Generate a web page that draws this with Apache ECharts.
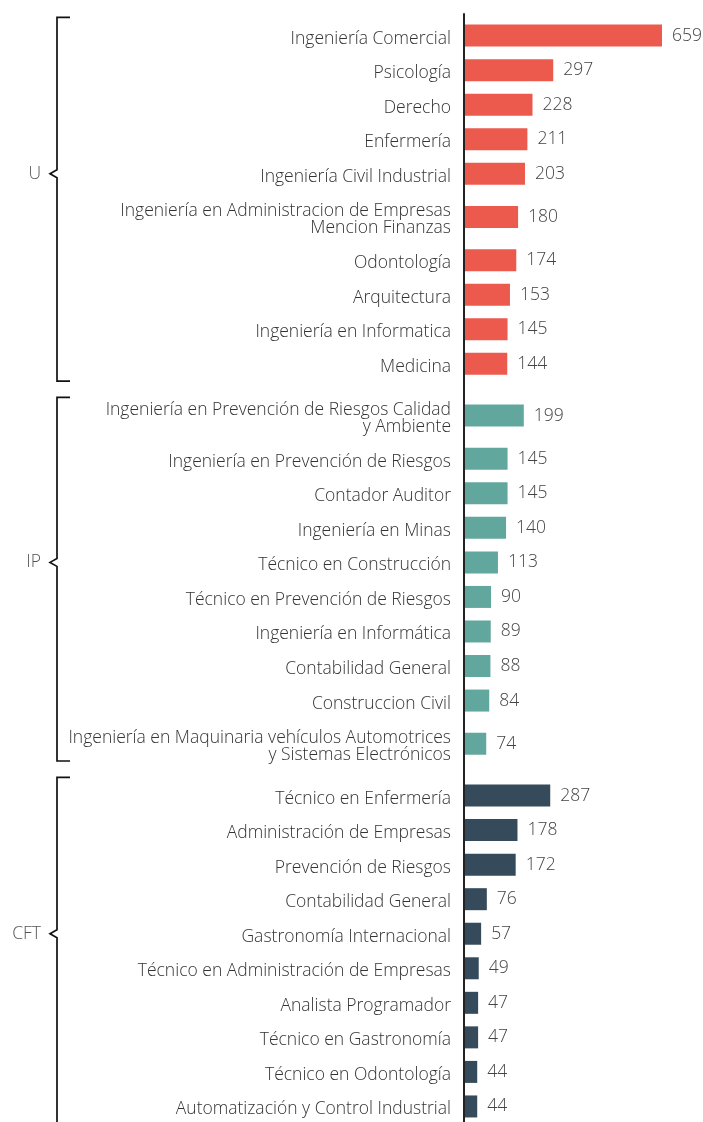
<!DOCTYPE html>
<html>
<head>
<meta charset="utf-8">
<script src="https://cdn.jsdelivr.net/npm/echarts@6/dist/echarts.min.js"></script>
<style>
html, body { margin: 0; padding: 0; background: #fff; }
#chart { width: 703px; height: 1122px; }
</style>
</head>
<body>
<div id="chart"></div>
<script>
// datos por grupo
var groupNames = ['U', 'IP', 'CFT'];
var groupColors = ['#ec5a4e', '#62a79e', '#354b5b'];

var uLabels = ['Ingeniería Comercial', 'Psicología', 'Derecho', 'Enfermería', 'Ingeniería Civil Industrial',
	'Ingeniería en Administracion de Empresas\nMencion Finanzas', 'Odontología', 'Arquitectura',
	'Ingeniería en Informatica', 'Medicina'];
var uValues = [659, 297, 228, 211, 203, 180, 174, 153, 145, 144];

var ipLabels = ['Ingeniería en Prevención de Riesgos Calidad\ny Ambiente', 'Ingeniería en Prevención de Riesgos',
	'Contador Auditor', 'Ingeniería en Minas', 'Técnico en Construcción', 'Técnico en Prevención de Riesgos',
	'Ingeniería en Informática', 'Contabilidad General', 'Construccion Civil',
	'Ingeniería en Maquinaria vehículos Automotrices\ny Sistemas Electrónicos'];
var ipValues = [199, 145, 145, 140, 113, 90, 89, 88, 84, 74];

var cftLabels = ['Técnico en Enfermería', 'Administración de Empresas', 'Prevención de Riesgos', 'Contabilidad General',
	'Gastronomía Internacional', 'Técnico en Administración de Empresas', 'Analista Programador',
	'Técnico en Gastronomía', 'Técnico en Odontología', 'Automatización y Control Industrial'];
var cftValues = [287, 178, 172, 76, 57, 49, 47, 47, 44, 44];

var groups = [
	{labels: uLabels, values: uValues},
	{labels: ipLabels, values: ipValues},
	{labels: cftLabels, values: cftValues}
];

// filas: una linea = 2 unidades, cada linea extra suma 1; media unidad entre grupos
var rows = [], spans = [], pos = 0;
groups.forEach(function (g, gi) {
	if (gi > 0) pos += 0.5;
	var first = rows.length;
	g.labels.forEach(function (lab, i) {
		var h = lab.split('\n').length + 1;
		rows.push([g.values[i], pos + h / 2, lab, gi]);
		pos += h;
	});
	spans.push([first, rows.length - 1]);
});

var font = '300 17.5px "Open Sans"';

var myChart = echarts.init(document.getElementById('chart'));
option = {
	animation: false,
	grid: {left: 464, width: 198, top: 14, bottom: 0},
	xAxis: {type: 'value', min: 0, max: 659, show: false},
	yAxis: {
		type: 'value', inverse: true, min: -0.25, max: 63.9,
		axisLine: {show: true, lineStyle: {color: '#222', width: 2}},
		axisTick: {show: false},
		axisLabel: {show: false},
		splitLine: {show: false}
	},
	series: [{
		type: 'custom',
		data: rows,
		encode: {x: 0, y: 1},
		renderItem: function (params, api) {
			var y = api.value(1);
			var p0 = api.coord([0, y]);
			var p1 = api.coord([api.value(0), y]);
			var bh = 22;
			return {
				type: 'group',
				children: [{
					type: 'rect',
					shape: {x: p0[0] + 1, y: p0[1] - bh / 2, width: p1[0] - p0[0] - 1, height: bh},
					style: {fill: groupColors[api.value(3)]}
				}, {
					type: 'text',
					style: {
						text: rows[params.dataIndex][2], x: p0[0] - 13, y: p0[1] + 3,
						align: 'right', verticalAlign: 'middle', lineHeight: 17,
						font: font, fill: '#333'
					}
				}, {
					type: 'text',
					style: {
						text: String(api.value(0)), x: p1[0] + 10, y: p1[1],
						align: 'left', verticalAlign: 'middle',
						font: font, fill: '#444'
					}
				}]
			};
		}
	}]
};
myChart.setOption(option);

// llaves de cada grupo
var unit = myChart.convertToPixel({gridIndex: 0}, [0, 1])[1] - myChart.convertToPixel({gridIndex: 0}, [0, 0])[1];
var graphics = [];
spans.forEach(function (s, gi) {
	var top = myChart.convertToPixel({gridIndex: 0}, [0, rows[s[0]][1]])[1] - 1.05 * unit;
	var bottom = myChart.convertToPixel({gridIndex: 0}, [0, rows[s[1]][1]])[1] + unit;
	var mid = myChart.convertToPixel({gridIndex: 0}, [0, rows[s[0] + 4][1]])[1];
	graphics.push({
		type: 'polyline',
		shape: {points: [[70, top], [57, top], [57, mid - 4], [50, mid], [57, mid + 4], [57, bottom], [70, bottom]]},
		style: {stroke: '#111', lineWidth: 1.7, fill: null}
	});
	graphics.push({
		type: 'text',
		style: {text: groupNames[gi], x: 41, y: mid, align: 'right', verticalAlign: 'middle', font: font, fill: '#555'}
	});
});
myChart.setOption({graphic: graphics});
</script>
</body>
</html>
